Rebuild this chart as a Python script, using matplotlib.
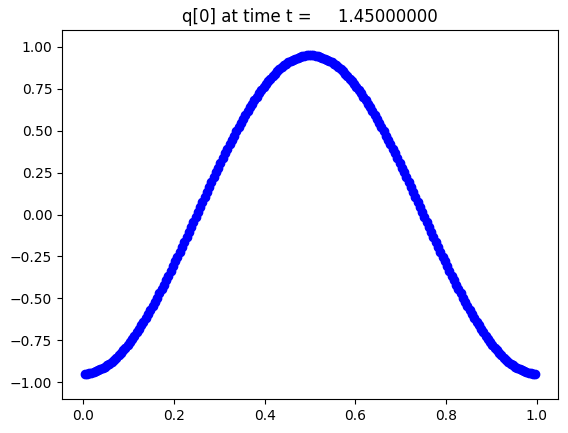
import numpy as np
import matplotlib
matplotlib.use("Agg")
import matplotlib.pyplot as plt

# cell centres (200 cells on [0, 1]) and q[0] values
x = np.arange(200) * 0.005 + 0.0025
q_rise1 = [-0.950, -0.949, -0.947, -0.944, -0.941, -0.936, -0.930, -0.924, -0.916, -0.908,
           -0.899, -0.889, -0.878, -0.866, -0.853, -0.840, -0.825, -0.810, -0.794, -0.777,
           -0.760, -0.741, -0.722, -0.703, -0.682, -0.661, -0.639, -0.617, -0.594, -0.570,
           -0.546, -0.522, -0.496, -0.471, -0.445, -0.418, -0.391, -0.364, -0.336, -0.308,
           -0.279, -0.251, -0.222, -0.193, -0.163, -0.134, -0.104, -0.075, -0.045, -0.015]
q_rise2 = [0.015, 0.045, 0.075, 0.104, 0.134, 0.163, 0.193, 0.222, 0.251, 0.279,
           0.308, 0.336, 0.364, 0.391, 0.418, 0.445, 0.471, 0.496, 0.522, 0.546,
           0.570, 0.594, 0.617, 0.639, 0.661, 0.682, 0.703, 0.722, 0.741, 0.760,
           0.777, 0.794, 0.810, 0.825, 0.840, 0.853, 0.866, 0.878, 0.889, 0.899,
           0.908, 0.916, 0.924, 0.930, 0.936, 0.941, 0.944, 0.947, 0.949, 0.950]
q_fall1 = [0.950, 0.949, 0.947, 0.944, 0.941, 0.936, 0.930, 0.924, 0.916, 0.908,
           0.899, 0.889, 0.878, 0.866, 0.853, 0.840, 0.825, 0.810, 0.794, 0.777,
           0.760, 0.741, 0.722, 0.703, 0.682, 0.661, 0.639, 0.617, 0.594, 0.570,
           0.546, 0.522, 0.496, 0.471, 0.445, 0.418, 0.391, 0.364, 0.336, 0.308,
           0.279, 0.251, 0.222, 0.193, 0.163, 0.134, 0.104, 0.075, 0.045, 0.015]
q_fall2 = [-0.015, -0.045, -0.075, -0.104, -0.134, -0.163, -0.193, -0.222, -0.251, -0.279,
           -0.308, -0.336, -0.364, -0.391, -0.418, -0.445, -0.471, -0.496, -0.522, -0.546,
           -0.570, -0.594, -0.617, -0.639, -0.661, -0.682, -0.703, -0.722, -0.741, -0.760,
           -0.777, -0.794, -0.810, -0.825, -0.840, -0.853, -0.866, -0.878, -0.889, -0.899,
           -0.908, -0.916, -0.924, -0.930, -0.936, -0.941, -0.944, -0.947, -0.949, -0.950]
q = q_rise1 + q_rise2 + q_fall1 + q_fall2
t_frame = 1.45

fig = plt.figure(figsize=(5.68, 4.33), dpi=100)
ax = fig.add_subplot(111)
fig.subplots_adjust(left=62 / 568, right=558 / 568, top=1 - 30 / 433, bottom=1 - 399 / 433)
ax.plot(x, q, 'bo')
ax.set_ylim(-1.1, 1.1)
ax.set_title('q[0] at time t = %14.8f' % t_frame)

fig.savefig('out.png', dpi=100)
